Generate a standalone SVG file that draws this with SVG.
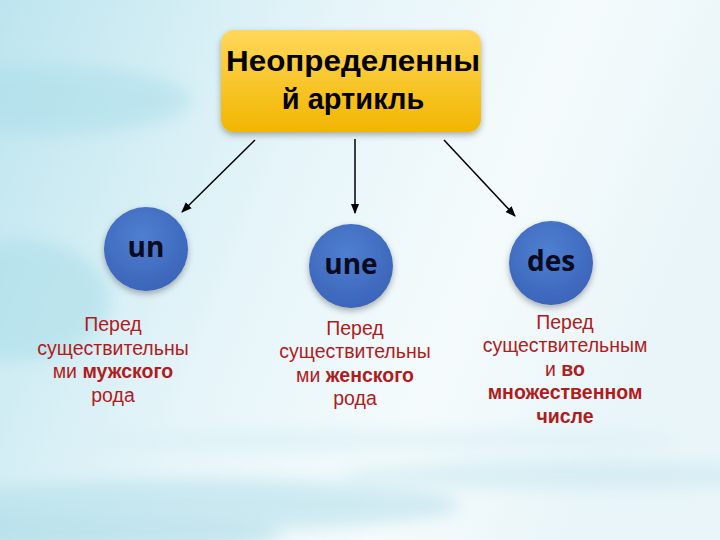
<svg xmlns="http://www.w3.org/2000/svg" width="720" height="540" viewBox="0 0 720 540">
<defs>
<linearGradient id="bg" x1="0" y1="0" x2="1" y2="0.3">
<stop offset="0" stop-color="#bde5ef"/>
<stop offset="0.45" stop-color="#e6f5f9"/>
<stop offset="0.75" stop-color="#f5fbfc"/>
<stop offset="1" stop-color="#e9f5f9"/>
</linearGradient>
<linearGradient id="box" x1="0" y1="0" x2="0" y2="1">
<stop offset="0" stop-color="#ffd75a"/>
<stop offset="1" stop-color="#f2b600"/>
</linearGradient>
<radialGradient id="ball" cx="0.45" cy="0.35" r="0.7">
<stop offset="0" stop-color="#4f7fd0"/>
<stop offset="1" stop-color="#3a63b8"/>
</radialGradient>
<filter id="blur" x="-20%" y="-50%" width="140%" height="200%"><feGaussianBlur stdDeviation="8"/></filter>
<filter id="sh" x="-20%" y="-20%" width="140%" height="150%"><feDropShadow dx="0" dy="3" stdDeviation="3" flood-color="#000" flood-opacity="0.3"/></filter>
<marker id="arr" viewBox="0 0 10 10" refX="9" refY="5" markerWidth="7" markerHeight="7" orient="auto-start-reverse">
<path d="M0,1 L10,5 L0,9 Z" fill="#000"/>
</marker>
<style>
.t{font-family:"Liberation Sans","DejaVu Sans",sans-serif;font-size:19.5px;fill:#b01c1c;text-anchor:middle}
.b{font-weight:bold}
.ball{fill:url(#ball)}
.bt{font-family:"Open Sans","Liberation Sans",sans-serif;font-weight:bold;font-size:28px;fill:#0a0a20;text-anchor:middle}
.h{font-family:"Liberation Sans",sans-serif;font-weight:bold;font-size:29px;fill:#000;text-anchor:middle}
</style>
</defs>
<rect width="720" height="540" fill="url(#bg)"/>
<g filter="url(#blur)" opacity="0.5">
<ellipse cx="40" cy="100" rx="150" ry="35" fill="#a8dde9"/>
<ellipse cx="20" cy="300" rx="90" ry="60" fill="#a6dce8"/>
<ellipse cx="200" cy="505" rx="260" ry="25" fill="#aadbe8"/>
<ellipse cx="560" cy="475" rx="220" ry="14" fill="#c3e6ef"/>
<ellipse cx="380" cy="440" rx="300" ry="10" fill="#d2edf3"/>
<ellipse cx="80" cy="535" rx="200" ry="18" fill="#9fd5e4"/>
</g>
<g id="connectors" stroke="#000" stroke-width="1.5" fill="none">
<line x1="255" y1="140" x2="182" y2="212" marker-end="url(#arr)"/>
<line x1="355" y1="139" x2="355" y2="213" marker-end="url(#arr)"/>
<line x1="444" y1="140" x2="515" y2="216" marker-end="url(#arr)"/>
</g>
<g id="root">
<rect x="221" y="30" width="260" height="102" rx="13" fill="url(#box)" filter="url(#sh)"/>
<text class="h" x="353" y="71" textLength="254" lengthAdjust="spacingAndGlyphs">Неопределенны</text>
<text class="h" x="353" y="109">й артикль</text>
</g>
<g id="un">
<circle class="ball" cx="146" cy="249" r="42" filter="url(#sh)"/>
<text class="bt" x="146" y="257">un</text>
</g>
<g id="une">
<circle class="ball" cx="351" cy="266" r="42" filter="url(#sh)"/>
<text class="bt" x="351" y="274">une</text>
</g>
<g id="des">
<circle class="ball" cx="551" cy="263" r="42" filter="url(#sh)"/>
<text class="bt" x="551" y="271">des</text>
</g>
<g id="label-un">
<text class="t" x="113" y="331">Перед</text>
<text class="t" x="113" y="355">существительны</text>
<text class="t" x="113" y="378">ми <tspan class="b">мужского</tspan></text>
<text class="t" x="113" y="402">рода</text>
</g>
<g id="label-une">
<text class="t" x="355" y="335">Перед</text>
<text class="t" x="355" y="358">существительны</text>
<text class="t" x="355" y="382">ми <tspan class="b">женского</tspan></text>
<text class="t" x="355" y="405">рода</text>
</g>
<g id="label-des">
<text class="t" x="565" y="329">Перед</text>
<text class="t" x="565" y="352">существительным</text>
<text class="t" x="565" y="376">и <tspan class="b">во</tspan></text>
<text class="t b" x="565" y="399">множественном</text>
<text class="t b" x="565" y="423">числе</text>
</g>
</svg>
